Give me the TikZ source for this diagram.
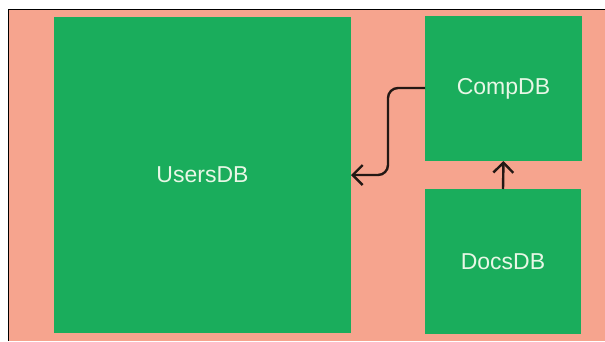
\documentclass[tikz,border=0pt]{standalone}
\usepackage{fontspec}
\setmainfont{Liberation Sans}
\usetikzlibrary{arrows.meta}
\definecolor{salmon}{HTML}{F6A48E}
\definecolor{dbgreen}{HTML}{1AAD5C}
\definecolor{dblabel}{HTML}{E8F7E6}
\definecolor{linkcol}{HTML}{231814}
\begin{document}
\begin{tikzpicture}[x=1pt, y=-1pt,
    db/.style={rectangle, fill=dbgreen, draw=none, inner sep=0pt, outer sep=0pt,
        text=dblabel, font=\fontsize{23}{27}\selectfont},
    link/.style={linkcol, line width=2.4pt, rounded corners=10pt,
        -{Straight Barb[length=10pt, width=20pt, line width=2.4pt]}}]
    \useasboundingbox (0,0) rectangle (605,341);
    \fill[white] (0,0) rectangle (605,341);
    \fill[salmon] (8.5,9.5) rectangle (605,341);
    \draw[black, line width=1.2pt] (8.5,341) -- (8.5,9.5) -- (605,9.5);

    \node[db, minimum width=297pt, minimum height=316pt] (users) at (202.5,175) {UsersDB};
    \node[db, minimum width=157pt, minimum height=145pt] (comp) at (503.5,88.5) {CompDB};
    \node[db, minimum width=156pt, minimum height=145pt] (docs) at (503,261.5) {DocsDB};

    \draw[link] (comp.west |- 0,88) -- (388,88) -- (388,175) -- (users.east |- 0,175);
    \draw[link] (docs.north) -- (comp.south);
\end{tikzpicture}
\end{document}
